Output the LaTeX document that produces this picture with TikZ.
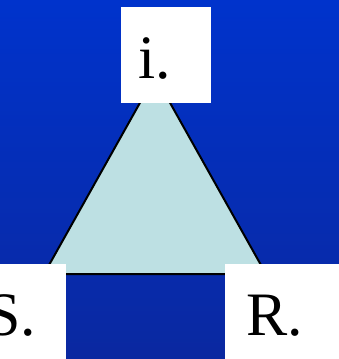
\documentclass[tikz,border=0pt]{standalone}
\usepackage{fontspec}
\setmainfont{Liberation Serif}
\definecolor{bgtop}{HTML}{0033CC}
\definecolor{bgbot}{HTML}{0A28A0}
\definecolor{tri}{HTML}{BDE0E3}
\tikzset{
  whitebox/.style={fill=white, draw=none},
  lbl/.style={font=\fontsize{62}{62}\selectfont, inner sep=0pt, text=black},
}
\begin{document}
\begin{tikzpicture}[x=1bp,y=-1bp]
\useasboundingbox (0,0) rectangle (339,359);
\clip (0,0) rectangle (339,359);
\shade[top color=bgtop, bottom color=bgbot] (0,0) rectangle (339,359);
\coordinate (A) at (155,76);
\coordinate (B) at (44,274);
\coordinate (C) at (266,274);
\filldraw[fill=tri, draw=black, line width=2bp, line join=miter] (A) -- (B) -- (C) -- cycle;
\fill[whitebox] (121,7) rectangle (211,103);
\fill[whitebox] (-5,264) rectangle (66,364);
\fill[whitebox] (225,264) rectangle (344,364);
\node[lbl, anchor=base] (i) at (155,78) {i.};
\node[lbl, anchor=base east] (s) at (36,335) {S.};
\node[lbl, anchor=base west] (r) at (246,335) {R.};
\end{tikzpicture}
\end{document}
